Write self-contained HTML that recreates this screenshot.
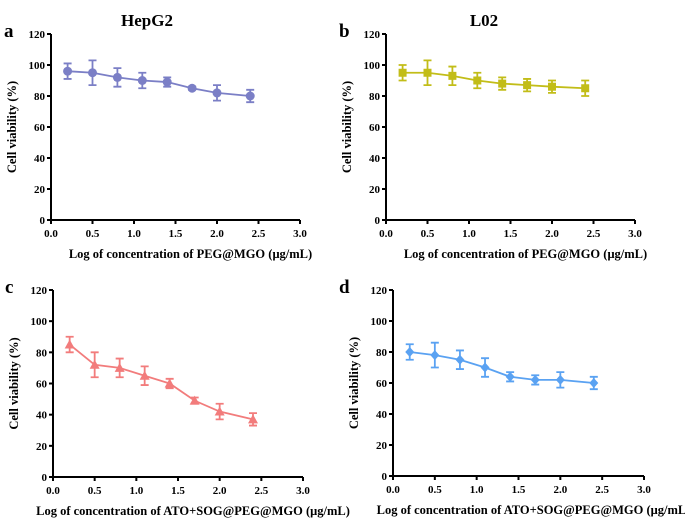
<!DOCTYPE html>
<html><head><meta charset="utf-8"><style>
body{margin:0;background:#fff;width:685px;height:520px;overflow:hidden}
svg{font-family:"Liberation Serif",serif;font-weight:bold}
</style></head><body>
<svg id="fig" width="685" height="520" xmlns="http://www.w3.org/2000/svg">
<text x="147" y="26" font-size="17" text-anchor="middle">HepG2</text>
<text x="484" y="26" font-size="17" text-anchor="middle">L02</text>
</svg>
<script>
const xs = [0.2,0.5,0.8,1.1,1.4,1.7,2.0,2.4];
const aVals = [96,95,92,90,89,85,82,80];
const aErr = [5,8,6,5,3,1,5,4];
const bVals = [95,95,93,90,88,87,86,85];
const bErr = [5,8,6,5,4,4,4,5];
const cVals = [85,72,70,65,60,49,42,37];
const cErr = [5,8,6,6,3,2,5,4];
const dVals = [80,78,75,70,64,62,62,60];
const dErr = [5,8,6,6,3,3,5,4];
const xTicks = ["0.0","0.5","1.0","1.5","2.0","2.5","3.0"];
const yTicks = ["0","20","40","60","80","100","120"];

const NS="http://www.w3.org/2000/svg";
const svg=document.getElementById('fig');
function mk(tag,attrs,parent){const e=document.createElementNS(NS,tag);for(const k in attrs)e.setAttribute(k,attrs[k]);(parent||svg).appendChild(e);return e;}

const panels=[
 {id:'a',lx:4,x0:51,x1:300,y0:220,y1:34,vals:aVals,err:aErr,color:'#7b7fc6',marker:'circle',xl:'Log of concentration of PEG@MGO (μg/mL)'},
 {id:'b',lx:339,x0:386,x1:635,y0:220,y1:34,vals:bVals,err:bErr,color:'#c2bd18',marker:'square',xl:'Log of concentration of PEG@MGO (μg/mL)'},
 {id:'c',lx:5,x0:53,x1:303,y0:477,y1:290,vals:cVals,err:cErr,color:'#f27c7c',marker:'triangle',xl:'Log of concentration of ATO+SOG@PEG@MGO (μg/mL)'},
 {id:'d',lx:339,x0:393,x1:644,y0:476,y1:290,vals:dVals,err:dErr,color:'#5aa2f2',marker:'diamond',xl:'Log of concentration of  ATO+SOG@PEG@MGO (μg/mL)'}
];
panels.forEach(p=>{
 const g=mk('g',{});
 
 
 const X=v=>p.x0+(v/3)*(p.x1-p.x0);
 const Y=v=>p.y0-(v/120)*(p.y0-p.y1);
 const lab=mk('text',{x:p.lx,y:p.y1+3,'font-size':19},g);lab.textContent=p.id;
 
 const ya=mk('line',{x1:p.x0,y1:p.y1,x2:p.x0,y2:p.y0,stroke:'#000','stroke-width':2},g);
 
 const xa=mk('line',{x1:p.x0-1,y1:p.y0,x2:p.x1,y2:p.y0,stroke:'#000','stroke-width':2},g);
 
 yTicks.forEach(t=>{const y=Y(+t);
  mk('line',{x1:p.x0-4,y1:y,x2:p.x0,y2:y,stroke:'#000','stroke-width':2},g);
  const tx=mk('text',{x:p.x0-6,y:y+4,'font-size':11,'text-anchor':'end'},g);tx.textContent=t;
  });
 xTicks.forEach(t=>{const x=X(+t);
  mk('line',{x1:x,y1:p.y0,x2:x,y2:p.y0+4,stroke:'#000','stroke-width':2},g);
  const tx=mk('text',{x:x,y:p.y0+17,'font-size':11,'text-anchor':'middle'},g);tx.textContent=t;
  });
 const cy=(p.y0+p.y1)/2;
 const yt=mk('text',{x:0,y:0,'font-size':12.5,'text-anchor':'middle',transform:`translate(${p.x0-35},${cy}) rotate(-90)`},g);
 yt.textContent='Cell viability (%)';
 
 const xt=mk('text',{x:(p.x0+p.x1)/2+15,y:p.y0+38,'font-size':12.5,'text-anchor':'middle'},g);
 xt.textContent=p.xl;
 
 const pts=xs.map((x,i)=>X(x)+','+Y(p.vals[i])).join(' ');
 const ln=mk('polyline',{points:pts,fill:'none',stroke:p.color,'stroke-width':1.8},g);
 
 xs.forEach((xv,i)=>{
  const x=X(xv),y=Y(p.vals[i]),yh=Y(p.vals[i]+p.err[i]),yl=Y(p.vals[i]-p.err[i]);
  const eb=mk('path',{d:`M${x},${yh}V${yl}M${x-4},${yh}H${x+4}M${x-4},${yl}H${x+4}`,stroke:p.color,'stroke-width':1.8,fill:'none'},g);
  
  let m;
  if(p.marker==='circle') m=mk('circle',{cx:x,cy:y,r:4.5,fill:p.color},g);
  else if(p.marker==='square') m=mk('rect',{x:x-4,y:y-4,width:8,height:8,fill:p.color},g);
  else if(p.marker==='triangle') m=mk('polygon',{points:`${x},${y-5} ${x-5},${y+4} ${x+5},${y+4}`,fill:p.color},g);
  else m=mk('polygon',{points:`${x},${y-5} ${x+4.5},${y} ${x},${y+5} ${x-4.5},${y}`,fill:p.color},g);
  
 });
});
</script>
</body></html>
